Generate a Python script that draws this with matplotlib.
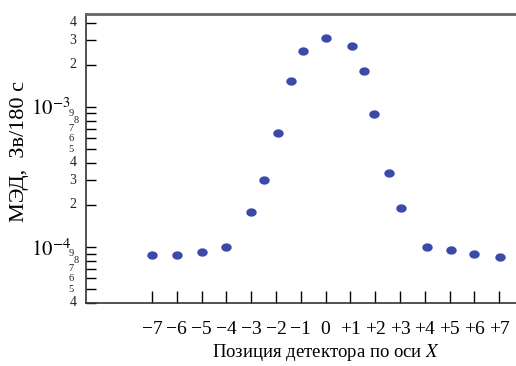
import matplotlib.pyplot as plt
import matplotlib as mpl
import numpy as np

mpl.rcParams["font.family"] = "Liberation Serif"
mpl.rcParams["mathtext.fontset"] = "stix"

# detector position along X and dose rate (Sv / 180 s)
x_pos = [-7, -6, -5, -4, -3, -2.5, -1.9, -1.4, -0.9, 0, 1.05, 1.55, 1.95, 2.55, 3.05, 4.1, 5.05, 6, 7.05]
dose = [8.8e-5, 8.8e-5, 9.2e-5, 1.0e-4, 1.78e-4, 3.0e-4, 6.5e-4, 1.53e-3, 2.5e-3, 3.1e-3,
        2.72e-3, 1.81e-3, 8.9e-4, 3.4e-4, 1.9e-4, 1.0e-4, 9.5e-5, 8.9e-5, 8.5e-5]

x_ticks = [-7, -6, -5, -4, -3, -2, -1, 0, 1, 2, 3, 4, 5, 6, 7]
x_labels = ["\u2212%d" % -v if v < 0 else ("+%d" % v if v > 0 else "0") for v in x_ticks]
y_major = [1e-4, 1e-3]
y_major_labels = ["$10^{-4}$", "$10^{-3}$"]
y_minor = [4e-5, 5e-5, 6e-5, 7e-5, 8e-5, 9e-5, 2e-4, 3e-4, 4e-4, 5e-4, 6e-4, 7e-4, 8e-4, 9e-4,
           2e-3, 3e-3, 4e-3]

fig = plt.figure(figsize=(5.16, 3.66), dpi=100)
ax = fig.add_axes([86 / 516, 1 - 303 / 366, 430 / 516, 289 / 366])

# slightly flattened dots like in the scan
t = np.linspace(0, 2 * np.pi, 40)
ellipse = np.column_stack([np.cos(t), 0.8 * np.sin(t)])
ax.plot(x_pos, dose, linestyle="none", marker=ellipse, color="#3a4aa8",
        markersize=7.5, markeredgewidth=0, zorder=3)

ax.set_yscale("log")
ax.set_xlim(-9.66, 7.68)
ax.set_ylim(4e-5, 4.6e-3)

ax.spines["right"].set_visible(False)
for s in ["top", "bottom", "left"]:
    ax.spines[s].set_color("#333333")
    ax.spines[s].set_linewidth(1.2)
ax.spines["top"].set_color("#666666")
ax.spines["top"].set_linewidth(2)

ax.set_xticks(x_ticks)
ax.set_xticklabels(x_labels, fontsize=14)
ax.tick_params(axis="x", direction="in", length=9, width=1, pad=13, top=False)

ax.set_yticks(y_major)
ax.set_yticklabels(y_major_labels, fontsize=15)
ax.set_yticks(y_minor, minor=True)
ax.yaxis.set_minor_formatter(mpl.ticker.NullFormatter())
ax.tick_params(axis="y", which="both", direction="in", length=7, width=1, pad=14)
ax.tick_params(axis="y", which="major", pad=11)

# hand-placed minor tick labels on the log axis
ytr = ax.get_yaxis_transform()
for v in y_minor:
    m = int(round(v / 10 ** np.floor(np.log10(v) + 1e-9)))
    big = m in (2, 3, 4)
    size = 10 if big else 7.5
    xo = -0.022 if big else -0.028
    if m == 8:
        xo = -0.016
    ax.text(xo, v, str(m), transform=ytr, ha="right", va="center", fontsize=size, color="#222222")

fig.text(20 / 516, 1 - 152 / 366, "МЭД,  Зв/180 с", rotation=90, ha="center", va="center", fontsize=16)
ax.text(0, -0.17, "Позиция детектора по оси $\\it{X}$", transform=ax.get_xaxis_transform(),
        ha="center", va="center", fontsize=13.5)

plt.savefig("out.png", dpi=100)
